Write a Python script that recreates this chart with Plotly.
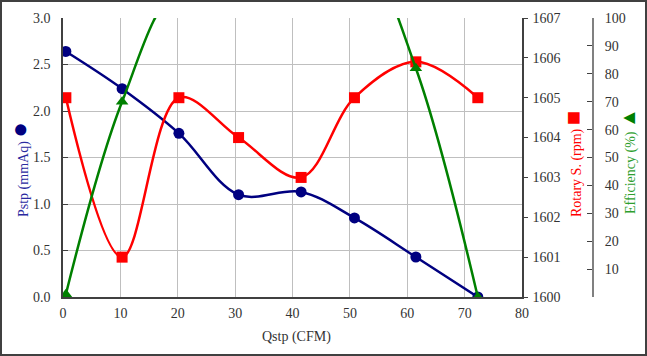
import plotly.graph_objects as go

# ---- data ----
q_cfm = [0.5, 10.3, 20.2, 30.6, 41.5, 50.8, 61.5, 72.3]
pstp = [2.64, 2.24, 1.76, 1.10, 1.13, 0.85, 0.43, 0.0]
rpm = [1605, 1601, 1605, 1604, 1603, 1605, 1605.9, 1605]
# efficiency: middle points lie above the 100% axis max and are clipped in the original
eff = [1, 70, 110, 104, 140, 131, 82, 0]

x_ticks = [0, 10, 20, 30, 40, 50, 60, 70, 80]
p_ticks = [0.0, 0.5, 1.0, 1.5, 2.0, 2.5, 3.0]
rpm_ticks = [1600, 1601, 1602, 1603, 1604, 1605, 1606, 1607]
eff_ticks = [0, 10, 20, 30, 40, 50, 60, 70, 80, 90, 100]

NAVY = "#000080"
RED = "#FF0000"
GREEN = "#008000"
FONT = "Liberation Serif, Times New Roman, serif"
TXT = "#333333"

W, H = 647, 356
ML, MR, MT, MB = 63, 54, 18, 59
PW = W - ML - MR
PH = H - MT - MB


def px_x(p):
    return (p - ML) / PW


def px_y(p):
    return (H - MB - p) / PH


fig = go.Figure()

fig.add_trace(go.Scatter(
    x=q_cfm, y=eff, yaxis="y3", mode="lines+markers",
    line=dict(color=GREEN, width=2.5, shape="spline", smoothing=1.0),
    marker=dict(symbol="triangle-up", size=11, color=GREEN),
    showlegend=False))
fig.add_trace(go.Scatter(
    x=q_cfm, y=rpm, yaxis="y2", mode="lines+markers",
    line=dict(color=RED, width=2.5, shape="spline", smoothing=1.0),
    marker=dict(symbol="square", size=11, color=RED),
    showlegend=False))
fig.add_trace(go.Scatter(
    x=q_cfm, y=pstp, yaxis="y", mode="lines+markers",
    line=dict(color=NAVY, width=2.5, shape="spline", smoothing=1.0),
    marker=dict(symbol="circle", size=11, color=NAVY),
    showlegend=False))

tickfont = dict(family=FONT, size=14, color=TXT)

fig.update_layout(
    width=W, height=H,
    margin=dict(l=ML, r=MR, t=MT, b=MB, pad=0, autoexpand=False),
    paper_bgcolor="white", plot_bgcolor="white",
    font=dict(family=FONT, size=14, color=TXT),
    xaxis=dict(
        domain=[0, 459 / PW], range=[0, 80], tickvals=x_ticks,
        showgrid=True, gridcolor="#BFBFBF", gridwidth=1,
        showline=True, linecolor="#404040", linewidth=1.5,
        ticks="", zeroline=False, tickfont=tickfont, automargin=False,
        ticklabelstandoff=2),
    yaxis=dict(
        range=[0, 3], tickvals=p_ticks, tickformat=".1f",
        showgrid=True, gridcolor="#BFBFBF", gridwidth=1,
        showline=True, linecolor="#404040", linewidth=1.5,
        ticks="inside", ticklen=5, tickcolor="#404040",
        zeroline=False, tickfont=tickfont, automargin=False,
        ticklabelstandoff=8),
    yaxis2=dict(
        overlaying="y", side="right", anchor="x",
        range=[1600, 1607], tickvals=rpm_ticks,
        showgrid=False, showline=True, linecolor="#404040", linewidth=1.5,
        ticks="outside", ticklen=4, tickcolor="#404040",
        zeroline=False, tickfont=tickfont, automargin=False,
        ticklabelstandoff=2),
    yaxis3=dict(
        overlaying="y", side="right", anchor="free", position=1.0,
        range=[0, 100], tickvals=eff_ticks,
        ticktext=[""] + [str(v) for v in eff_ticks[1:]],
        showgrid=False, showline=True, linecolor="#808080", linewidth=2,
        ticks="inside", ticklen=5, tickcolor="#404040",
        zeroline=False, tickfont=tickfont, automargin=False,
        ticklabelstandoff=8),
)

annotations = [
    dict(text="Qstp (CFM)", x=px_x(296), y=px_y(337), xref="paper", yref="paper",
         showarrow=False, xanchor="center", yanchor="middle",
         font=dict(family=FONT, size=14, color=TXT)),
    dict(text="Pstp (mmAq) <span style='font-size:26px;color:#000080'>●</span>",
         x=px_x(19), y=px_y(170), xref="paper", yref="paper", textangle=-90,
         showarrow=False, xanchor="center", yanchor="middle",
         font=dict(family=FONT, size=14, color="#2A2AA0")),
    dict(text="Rotary S. (rpm) <span style='font-size:24px'>■</span>",
         x=px_x(573), y=px_y(164), xref="paper", yref="paper", textangle=-90,
         showarrow=False, xanchor="center", yanchor="middle",
         font=dict(family=FONT, size=14, color=RED)),
    dict(text="Efficiency (%) <span style='font-size:20px;color:#008000'>▲</span>",
         x=px_x(628), y=px_y(161), xref="paper", yref="paper", textangle=-90,
         showarrow=False, xanchor="center", yanchor="middle",
         font=dict(family=FONT, size=14, color="#2E9E2E")),
]
fig.update_layout(annotations=annotations)

fig.add_shape(type="rect", xref="paper", yref="paper",
              x0=px_x(1), x1=px_x(646), y0=px_y(355), y1=px_y(1),
              line=dict(color="#404040", width=2), fillcolor="rgba(0,0,0,0)")

fig.write_html("out.html", config={"displayModeBar": False},
               post_script="document.body.style.margin='0';document.body.style.padding='0';")
